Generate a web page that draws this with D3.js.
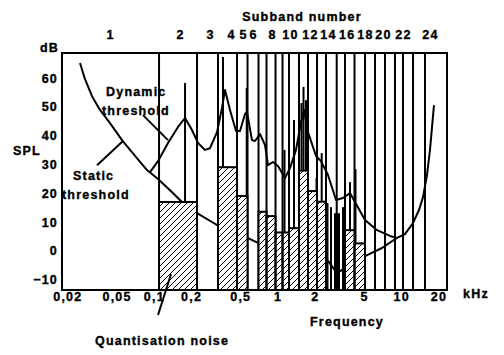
<!DOCTYPE html>
<html><head><meta charset="utf-8">
<script src="https://cdn.jsdelivr.net/npm/d3@7"></script>
<style>
body{margin:0;background:#fff}
text{font-family:"Liberation Sans",Arial,sans-serif;font-weight:bold;font-size:12.5px;letter-spacing:1.2px;fill:#000;stroke:#000;stroke-width:0.35px}
</style></head><body><svg id="c" width="504" height="355"></svg>
<script>
// ---- data (frequency in kHz, level in dB SPL) ----
const freqTicks=[0.02,0.05,0.1,0.2,0.5,1,2,5,10,20];
const freqTickLabels=["0,02","0,05","0,1","0,2","0,5","1","2","5","10","20"];
const dbTicks=[-10,0,10,20,30,40,50,60];
const subbandLabels=["1","2","3","4","5","6","8","10","12","14","16","18","20","22","24"];
const subbandLabelFreq=[0.04424,0.1628,0.2847,0.4208,0.5262,0.6336,0.9028,1.262,1.831,2.560,3.626,5.098,7.128,10.34,17.09];
const bandEdges=[0.1102,0.2235,0.3304,0.4707,0.5722,0.7023,0.8149,0.9634,1.098,1.239,1.492,1.764,2.086,2.466,3.010,3.513,4.193,5.098,6.142,7.396,8.910,10.34,12.46,15.57];
const noiseLevel=[null,16.8,null,28.9,18.9,null,13.4,11.9,6.2,6.2,7.7,27.7,20.6,16.9,null,null,7.0,2.4,null,null,null,null,null,null];
const staticF=[0.02532,0.02778,0.03165,0.03673,0.04424,0.05532,0.07047,0.0881,0.1081,0.1352,0.169,0.2235,0.3243,0.4707,0.5722,0.7023,0.9545,1.520,2.206,2.560,3.027,3.513,4.232,5.098,6.996,9.25,10.73,12.46,13.93,15.01,16.17,17.09,18.41];
const staticDb=[65.1,59.5,53.6,48.8,44.2,38.3,32.8,27.9,24.8,20.9,16.8,12.9,8.8,5.6,4.3,2.5,1.1,-0.3,-1.3,-3.7,-7.9,-6.2,-4.1,-2.0,0.8,4.3,5.6,9.5,14.0,18.5,26.2,34.9,50.5];
const dynF=[0.0932,0.1081,0.1302,0.1569,0.1788,0.2036,0.2277,0.2594,0.2847,0.3243,0.3558,0.3763,0.413,0.4619,0.4975,0.5461,0.5668,0.6219,0.658,0.7223,0.7924,0.838,0.9197,1.009,1.150,1.262,1.411,1.549,1.638,1.764,2.048,2.247,2.560,2.972,3.384,3.856,4.232,5.098,6.374,8.12,9.25];
const dynDb=[27.2,31.0,37.3,42.9,46.0,41.8,37.3,34.9,35.5,41.1,49.5,55.7,48.8,41.5,41.5,47.4,48.1,38.3,38.0,40.4,36.6,29.6,30.7,29.3,25.1,28.6,34.9,44.6,48.8,41.1,32.8,31.0,26.2,17.5,18.2,19.9,16.8,10.5,7.0,5.0,4.3];
const spikeF=[0.1788,0.3626,0.5637,1.139,1.359,1.563,1.623,1.700,2.067,2.277,2.536,2.707,2.916,3.027,3.141,3.384,3.480,3.856,4.271];
const spikeDb=[58.2,67.2,56.4,34.9,45.3,51.2,56.8,52.2,25.1,33.8,16.4,15.0,12.9,12.9,12.9,15.0,15.0,23.7,28.2];

// ---- scales ----
const svg=d3.select("#c");
const x=d3.scaleLog().domain([0.0181,23.46]).range([62,447]);
const y=d3.scaleLinear().domain([-13.8,68.6]).range([290,53]);
const [fMin,fMax]=x.domain(), [dMin,dMax]=y.domain();

const defs=svg.append("defs");
defs.append("pattern").attr("id","hatch").attr("patternUnits","userSpaceOnUse")
  .attr("width",6).attr("height",6)
  .append("path").attr("d","M-1,1 l2,-2 M0,6 l6,-6 M5,7 l2,-2")
  .attr("stroke","#000").attr("stroke-width",1);

// annotation texts
const ann=svg.append("g");
[["dB",40,52],["SPL",13,155],["Dynamic",106,96],["threshold",102,115],
 ["Static",73,180],["threshold",62,198.5],["kHz",463,298],["Frequency",310,326],
 ["Quantisation noise",95,345]].forEach(([t,a,b])=>ann.append("text").attr("x",a).attr("y",b).text(t));
svg.append("text").attr("x",302).attr("y",20.5).attr("text-anchor","middle").text("Subband number");

// subband boundary lines
svg.append("g").selectAll("line").data(bandEdges).join("line")
  .attr("x1",d=>x(d)).attr("x2",d=>x(d)).attr("y1",y(dMax)).attr("y2",y(dMin))
  .attr("stroke","#000").attr("stroke-width",2);

// curves
const line=d3.line().x(d=>x(d[0])).y(d=>y(d[1]));
svg.append("path").attr("d",line(staticF.map((f,i)=>[f,staticDb[i]])))
  .attr("fill","none").attr("stroke","#000").attr("stroke-width",2).attr("stroke-linejoin","round");
svg.append("path").attr("d",line(dynF.map((f,i)=>[f,dynDb[i]])))
  .attr("fill","none").attr("stroke","#000").attr("stroke-width",2).attr("stroke-linejoin","round");

// pointer lines (annotation, in data units)
const pointers=[[[0.03474,29.6],[0.05637,38.0]],[[0.08176,47.0],[0.1302,38.3]],[[0.1377,-8.3],[0.1081,-22.5]]];

// quantisation noise bars
const bands=noiseLevel.map((v,i)=>({lo:i===0?fMin:bandEdges[i-1],hi:bandEdges[i],v})).filter(d=>d.v!==null);
const gb=svg.append("g");
gb.selectAll("rect.w").data(bands).join("rect").attr("class","w")
  .attr("x",d=>x(d.lo)).attr("width",d=>x(d.hi)-x(d.lo))
  .attr("y",d=>y(d.v)).attr("height",d=>y(dMin)-y(d.v)).attr("fill","#fff");
gb.selectAll("rect.h").data(bands).join("rect").attr("class","h")
  .attr("x",d=>x(d.lo)).attr("width",d=>x(d.hi)-x(d.lo))
  .attr("y",d=>y(d.v)).attr("height",d=>y(dMin)-y(d.v))
  .attr("fill","url(#hatch)").attr("stroke","#000").attr("stroke-width",2);

// spectral lines (maskers)
const spikes=spikeF.map((f,i)=>{const b=d3.bisectRight(bandEdges,f);const base=noiseLevel[b];return {f,top:spikeDb[i],base:base==null?dMin:base};});
svg.append("g").selectAll("line").data(spikes).join("line")
  .attr("x1",d=>x(d.f)).attr("x2",d=>x(d.f)).attr("y1",d=>y(d.top)).attr("y2",d=>y(d.base))
  .attr("stroke","#000").attr("stroke-width",2);

svg.append("g").selectAll("line").data(pointers).join("line")
  .attr("x1",d=>x(d[0][0])).attr("y1",d=>y(d[0][1])).attr("x2",d=>x(d[1][0])).attr("y2",d=>y(d[1][1]))
  .attr("stroke","#000").attr("stroke-width",2);

// frame
svg.append("rect").attr("x",x(fMin)).attr("y",y(dMax)).attr("width",x(fMax)-x(fMin)).attr("height",y(dMin)-y(dMax))
  .attr("fill","none").attr("stroke","#000").attr("stroke-width",2);

// axes (labels only)
const clean=g=>{g.select(".domain").remove();g.selectAll("text").attr("font-size",null).attr("font-family",null);};
svg.append("g").attr("transform","translate(58,0)")
  .call(d3.axisLeft(y).tickValues(dbTicks).tickSize(0).tickPadding(0).tickFormat(d3.format("d")))
  .call(clean).call(g=>g.selectAll("text").attr("x",0).attr("dy","0.36em"));
svg.append("g").attr("transform","translate(0,301)")
  .call(d3.axisBottom(x).tickValues(freqTicks).tickSize(0).tickFormat((d,i)=>freqTickLabels[i]))
  .call(clean).call(g=>g.selectAll("text").attr("y",0).attr("dy",null));
svg.append("g").attr("transform","translate(0,38.5)")
  .call(d3.axisTop(x).tickValues(subbandLabelFreq).tickSize(0).tickFormat((d,i)=>subbandLabels[i]))
  .call(clean).call(g=>g.selectAll("text").attr("y",0).attr("dy",null));
</script></body></html>
